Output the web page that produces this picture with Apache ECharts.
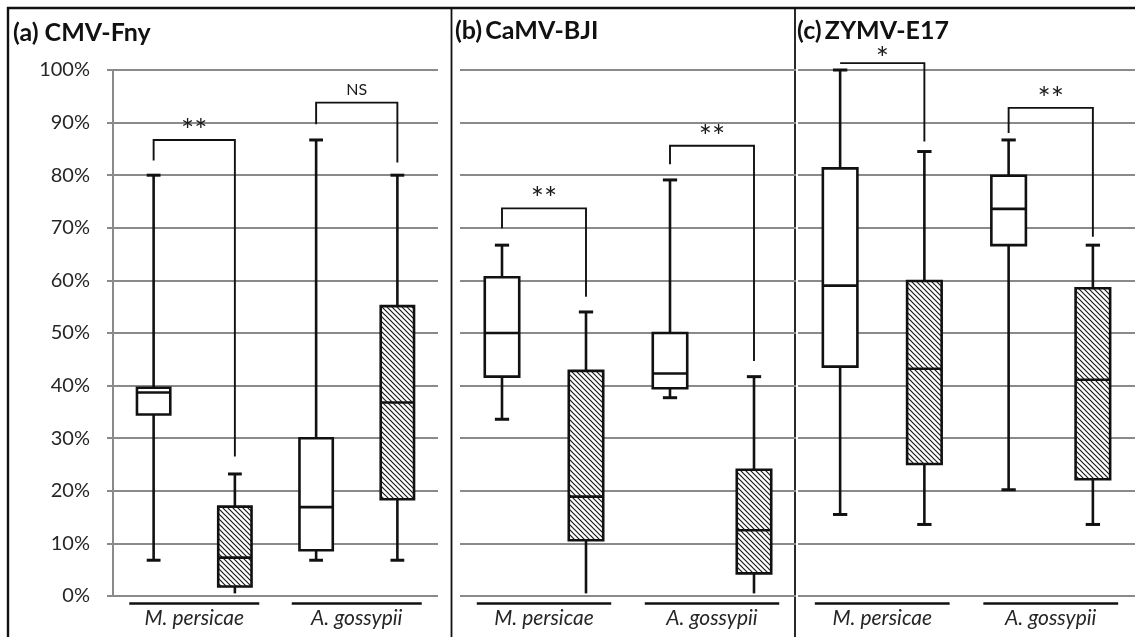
<!DOCTYPE html>
<html><head><meta charset="utf-8">
<script src="https://cdn.jsdelivr.net/npm/echarts@6/dist/echarts.min.js"></script>
<style>html,body{margin:0;padding:0;background:#fff}#c{width:1135px;height:637px}</style>
</head><body><div id="c"></div>
<script>
// ---------- data ----------
const panelTitles = ['(a) CMV-Fny', '(b)\u2009CaMV-BJI', '(c)\u2009ZYMV-E17'];
const aphids = ['M. persicae', 'A. gossypii'];
const boxSlots = ['M. persicae (open)', 'M. persicae (hatched)', 'A. gossypii (open)', 'A. gossypii (hatched)'];
const boxKinds = ['open', 'hatched', 'open', 'hatched'];
// each box: [min, Q1, median, Q3, max] in %
const boxesA = [[6.8, 34.5, 38.7, 39.6, 80], [0.5, 1.8, 7.3, 17.0, 23.2], [6.8, 8.7, 16.9, 30.0, 86.7], [6.8, 18.4, 36.8, 55.1, 80]];
const boxesB = [[33.6, 41.7, 50, 60.6, 66.7], [0.5, 10.6, 18.9, 42.8, 54], [37.7, 39.5, 42.3, 50, 79.1], [0.5, 4.3, 12.5, 24, 41.7]];
const boxesC = [[15.5, 43.6, 59, 81.3, 100], [13.6, 25.1, 43.2, 59.9, 84.5], [20.2, 66.7, 73.6, 79.9, 86.7], [13.6, 22.2, 41.1, 58.5, 66.7]];
// significance brackets: [fromBox, toBox, leftEnd, top, rightEnd] in %
const bracketsA = [[0, 1, 82.8, 86.7, 26.5], [2, 3, 89.7, 93.8, 82.4]];
const bracketsB = [[0, 1, 69.9, 73.7, 56.9], [2, 3, 82.1, 85.6, 44.7]];
const bracketsC = [[0, 1, 101.3, 101.3, 86.4], [2, 3, 88.0, 92.8, 68.3]];
const bracketLabelsA = ['**', 'NS'];
const bracketLabelsB = ['**', '**'];
const bracketLabelsC = ['*', '**'];
// aphid groups (box index pairs)
const groups = [[0, 1], [2, 3]];
const yMin = 0, yMax = 100, yStep = 10;

// ---------- rendering ----------
const FONT = 'Lato';
const INK = '#111';
function makeHatch() {
  const s = 5;
  const c = document.createElement('canvas'); c.width = s; c.height = s;
  const g = c.getContext('2d');
  g.fillStyle = '#fff'; g.fillRect(0, 0, s, s);
  g.strokeStyle = '#1a1a1a'; g.lineWidth = 1.2;
  g.beginPath();
  g.moveTo(-1, -1); g.lineTo(s + 1, s + 1);
  g.moveTo(-1, s - 1); g.lineTo(1, s + 1);
  g.moveTo(s - 1, -1); g.lineTo(s + 1, 1);
  g.stroke();
  return c;
}
const hatch = { image: makeHatch(), repeat: 'repeat' };

function boxRender(params, api) {
  const i = api.value(0);
  const v = [1, 2, 3, 4, 5].map(k => api.value(k));
  const band = api.size([1, 0])[0];
  const half = band * 0.205, capHalf = band * 0.085;
  const cx = api.coord([i, 0])[0];
  const Y = val => api.coord([i, val])[1];
  const lw = 2.6;
  const ch = [];
  ch.push({ type: 'line', shape: { x1: cx, y1: Y(v[3]), x2: cx, y2: Y(v[4]) }, style: { stroke: INK, lineWidth: lw } });
  ch.push({ type: 'line', shape: { x1: cx, y1: Y(v[1]), x2: cx, y2: Y(v[0]) }, style: { stroke: INK, lineWidth: lw } });
  ch.push({ type: 'line', shape: { x1: cx - capHalf, y1: Y(v[4]), x2: cx + capHalf, y2: Y(v[4]) }, style: { stroke: INK, lineWidth: 3 } });
  if (v[0] >= 1) ch.push({ type: 'line', shape: { x1: cx - capHalf, y1: Y(v[0]), x2: cx + capHalf, y2: Y(v[0]) }, style: { stroke: INK, lineWidth: 3 } });
  const top = Y(v[3]), bot = Y(v[1]);
  ch.push({ type: 'rect', shape: { x: cx - half, y: top, width: 2 * half, height: bot - top }, style: { fill: boxKinds[i] === 'hatched' ? hatch : '#fff', stroke: INK, lineWidth: lw } });
  ch.push({ type: 'line', shape: { x1: cx - half, y1: Y(v[2]), x2: cx + half, y2: Y(v[2]) }, style: { stroke: INK, lineWidth: lw } });
  return { type: 'group', children: ch };
}
function makeBracketRender(labels) {
  return function (params, api) {
    const a = api.value(0), b = api.value(1);
    const p1 = api.coord([a, api.value(2)]);
    const p2 = api.coord([a, api.value(3)]);
    const p3 = api.coord([b, api.value(3)]);
    const p4 = api.coord([b, api.value(4)]);
    const lab = labels[params.dataIndex];
    const isNS = lab === 'NS';
    const gap = isNS ? 13 : (lab.length === 1 ? 4 : 9);
    return { type: 'group', children: [
      { type: 'polyline', shape: { points: [p1, p2, p3, p4] }, style: { stroke: INK, lineWidth: 1.9, fill: null } },
      { type: 'text', style: { text: lab, x: (p2[0] + p3[0]) / 2, y: p2[1] - gap, align: 'center', verticalAlign: 'middle',
        fontSize: isNS ? 16 : 31, fontFamily: FONT, fill: '#1a1a1a' } }
    ] };
  };
}
function groupRender(params, api) {
  const a = api.value(0), b = api.value(1);
  const band = api.size([1, 0])[0];
  const pa = api.coord([a, 0]), pb = api.coord([b, 0]);
  const y = pa[1] + 7.5;
  return { type: 'line', shape: { x1: pa[0] - band * 0.3, y1: y, x2: pb[0] + band * 0.3, y2: y }, style: { stroke: INK, lineWidth: 2.4 } };
}

const grids = [
  { left: 113, top: 70, width: 325, height: 526 },
  { left: 460, top: 70, width: 336, height: 526 },
  { left: 798, top: 70, width: 338, height: 526 }
];
const allBoxes = [boxesA, boxesB, boxesC];
const allBrackets = [bracketsA, bracketsB, bracketsC];
const allLabels = [bracketLabelsA, bracketLabelsB, bracketLabelsC];
const gridColor = '#8a8a8a';

const xAxes = [], yAxes = [], series = [];
grids.forEach((g, p) => {
  xAxes.push({ gridIndex: p, type: 'category', data: boxSlots, position: 'top', boundaryGap: true,
    axisLine: { show: false }, axisTick: { show: false }, axisLabel: { show: false }, splitLine: { show: false } });
  yAxes.push({ gridIndex: p, type: 'value', min: yMin, max: yMax, interval: yStep,
    axisLine: { show: p === 0, lineStyle: { color: gridColor, width: 2 } },
    axisTick: { show: p === 0, length: 6, lineStyle: { color: gridColor, width: 2 } },
    axisLabel: { show: p === 0, formatter: '{value}%', fontSize: 20, fontFamily: FONT, color: '#262626', margin: 23 },
    splitLine: { show: true, lineStyle: { color: gridColor, width: 2 } } });
});
grids.forEach((g, p) => {
  xAxes.push({ gridIndex: p, type: 'category', data: aphids, position: 'bottom', boundaryGap: true,
    axisLine: { show: false }, axisTick: { show: false }, splitLine: { show: false },
    axisLabel: { fontSize: 21, fontStyle: 'italic', fontFamily: FONT, color: '#262626', margin: 12 } });
});
grids.forEach((g, p) => {
  series.push({ type: 'custom', xAxisIndex: p, yAxisIndex: p, renderItem: boxRender, clip: false,
    encode: { x: 0, y: [1, 2, 3, 4, 5] },
    data: allBoxes[p].map((b, i) => [i].concat(b)) });
  series.push({ type: 'custom', xAxisIndex: p, yAxisIndex: p, renderItem: makeBracketRender(allLabels[p]), clip: false,
    encode: { x: [0, 1], y: [2, 3, 4] }, data: allBrackets[p] });
  series.push({ type: 'custom', xAxisIndex: p, yAxisIndex: p, renderItem: groupRender, clip: false,
    encode: { x: [0, 1], y: 2 }, data: groups.map(gr => [gr[0], gr[1], 0]) });
});

const titleLefts = [13, 455, 797];
const option = {
  animation: false,
  backgroundColor: '#fff',
  grid: grids,
  xAxis: xAxes,
  yAxis: yAxes,
  series: series,
  title: panelTitles.map((t, p) => ({ text: t, left: titleLefts[p], top: p === 0 ? 20 : 18, padding: 0,
    textStyle: { fontSize: 25, fontWeight: 'bold', fontFamily: FONT, color: '#111' } })),
  graphic: [
    { type: 'line', shape: { x1: 7, y1: 8, x2: 1135, y2: 8 }, style: { stroke: '#111', lineWidth: 2.4 } },
    { type: 'line', shape: { x1: 8, y1: 7, x2: 8, y2: 637 }, style: { stroke: '#111', lineWidth: 2.4 } },
    { type: 'line', shape: { x1: 451.5, y1: 8, x2: 451.5, y2: 637 }, style: { stroke: '#111', lineWidth: 1.8 } },
    { type: 'line', shape: { x1: 795, y1: 8, x2: 795, y2: 637 }, style: { stroke: '#111', lineWidth: 1.8 } }
  ]
};
const chart = echarts.init(document.getElementById('c'), null, { renderer: 'canvas' });
chart.setOption(option);
</script></body></html>
